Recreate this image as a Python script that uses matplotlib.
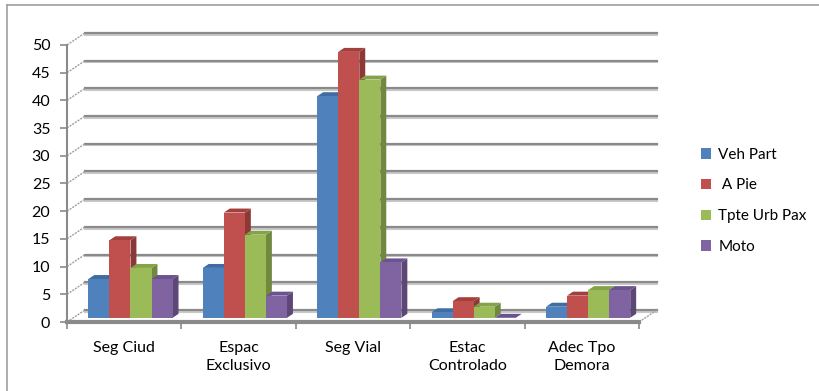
import matplotlib
matplotlib.use("Agg")
import matplotlib.pyplot as plt
from matplotlib.patches import Polygon, Patch
from matplotlib.lines import Line2D

plt.rcParams['font.family'] = ['Lato', 'DejaVu Sans']

# datos
categorias = ["Seg Ciud", "Espac\nExclusivo", "Seg Vial", "Estac\nControlado", "Adec Tpo\nDemora"]
series = ["Veh Part", " A Pie", "Tpte Urb Pax", "Moto"]
veh_part = [7, 9, 40, 1, 2]
a_pie = [14, 19, 48, 3, 4]
tpte_urb = [9, 15, 43, 2, 5]
moto = [7, 4, 10, 0, 5]
valores = [veh_part, a_pie, tpte_urb, moto]

frente = ["#4F81BD", "#C0504D", "#9BBB59", "#8064A2"]
lado = ["#385D8A", "#8C3836", "#71893F", "#5C4776"]
tapa = ["#3F6CA3", "#A3403D", "#84A348", "#6B5290"]

# profundidad del "3D" en unidades de datos
dx = 0.157
dy = 2.17
f = 0.35    # cara frontal de las barras
t = 0.33    # grosor de las barras
ancho = 0.184
n = len(categorias)

fig = plt.figure(figsize=(8.19, 3.91), dpi=100)
ax = fig.add_axes([67 / 819, 69 / 391, 0.7264, 0.7439])
ax.set_xlim(0, 5.2)
ax.set_ylim(0, 52.5)

gris = "#8a8a8a"
# paredes: lineas de division
for v in range(0, 51, 5):
    ax.plot([dx, n + dx], [v + dy - 0.3, v + dy - 0.3], color="#c8c8c8", lw=1.5, zorder=1, clip_on=False)
    ax.plot([dx, n + dx], [v + dy, v + dy], color=gris, lw=1.6, zorder=1.1, clip_on=False)
    ax.plot([0, dx], [v, v + dy], color="#a0a0a0", lw=1.0, ls=(0, (1.5, 0.8)), zorder=1.1, clip_on=False)
ax.plot([n, n + dx], [0, dy], color="#a0a0a0", lw=1.0, ls=(0, (1.5, 0.8)), zorder=1.1, clip_on=False)

# barras
z = 2
for c in range(n):
    for i in range(4):
        v = valores[i][c]
        x0 = c + (1 - 4 * ancho) / 2 + i * ancho + f * dx
        y0 = f * dy
        x1 = x0 + ancho
        sx, sy = t * dx, t * dy
        ax.add_patch(Polygon([(x1, y0), (x1 + sx, y0 + sy), (x1 + sx, y0 + v + sy), (x1, y0 + v)],
                             closed=True, facecolor=lado[i], edgecolor="none", zorder=z))
        ax.add_patch(Polygon([(x0, y0 + v), (x0 + sx, y0 + v + sy), (x1 + sx, y0 + v + sy), (x1, y0 + v)],
                             closed=True, facecolor=tapa[i], edgecolor="none", zorder=z))
        ax.bar(x0, v, width=ancho, bottom=y0, align="edge", color=frente[i], zorder=z + 0.1)
        z += 0.2

# ejes
for s in ["top", "right"]:
    ax.spines[s].set_visible(False)
ax.spines["left"].set_bounds(0, 50)
ax.spines["left"].set_color(gris)
ax.spines["left"].set_linewidth(1.5)
ax.spines["bottom"].set_bounds(0, n)
ax.spines["bottom"].set_color(gris)
ax.spines["bottom"].set_linewidth(3)
ax.spines["bottom"].set_zorder(5)

ax.set_yticks(range(0, 51, 5))
ax.tick_params(axis="y", direction="out", length=5, width=1.2, color=gris, labelsize=11.5, pad=7)
ax.set_xticks([c + 0.5 for c in range(n)])
ax.set_xticklabels(categorias, fontsize=11.5, linespacing=1.35)
ax.set_xticks(range(n + 1), minor=True)
ax.tick_params(axis="x", which="major", length=0, pad=14)
ax.tick_params(axis="x", which="minor", direction="out", length=5, width=1.2, color=gris)

handles = [Patch(facecolor=frente[i], edgecolor="none") for i in range(4)]
fig.legend(handles, series, loc="upper left", bbox_to_anchor=(693 / 819, (391 - 140) / 391),
           frameon=False, fontsize=11, handlelength=0.7, handleheight=0.7,
           handletextpad=0.45, labelspacing=1.1, borderpad=0)

# marco
fig.add_artist(Line2D([7 / 819, 7 / 819], [0, (391 - 5) / 391], color="#a0a0a0", lw=1.2))
fig.add_artist(Line2D([7 / 819, 1], [(391 - 5) / 391, (391 - 5) / 391], color="#a0a0a0", lw=1.2))

fig.savefig("out.png", dpi=100)
